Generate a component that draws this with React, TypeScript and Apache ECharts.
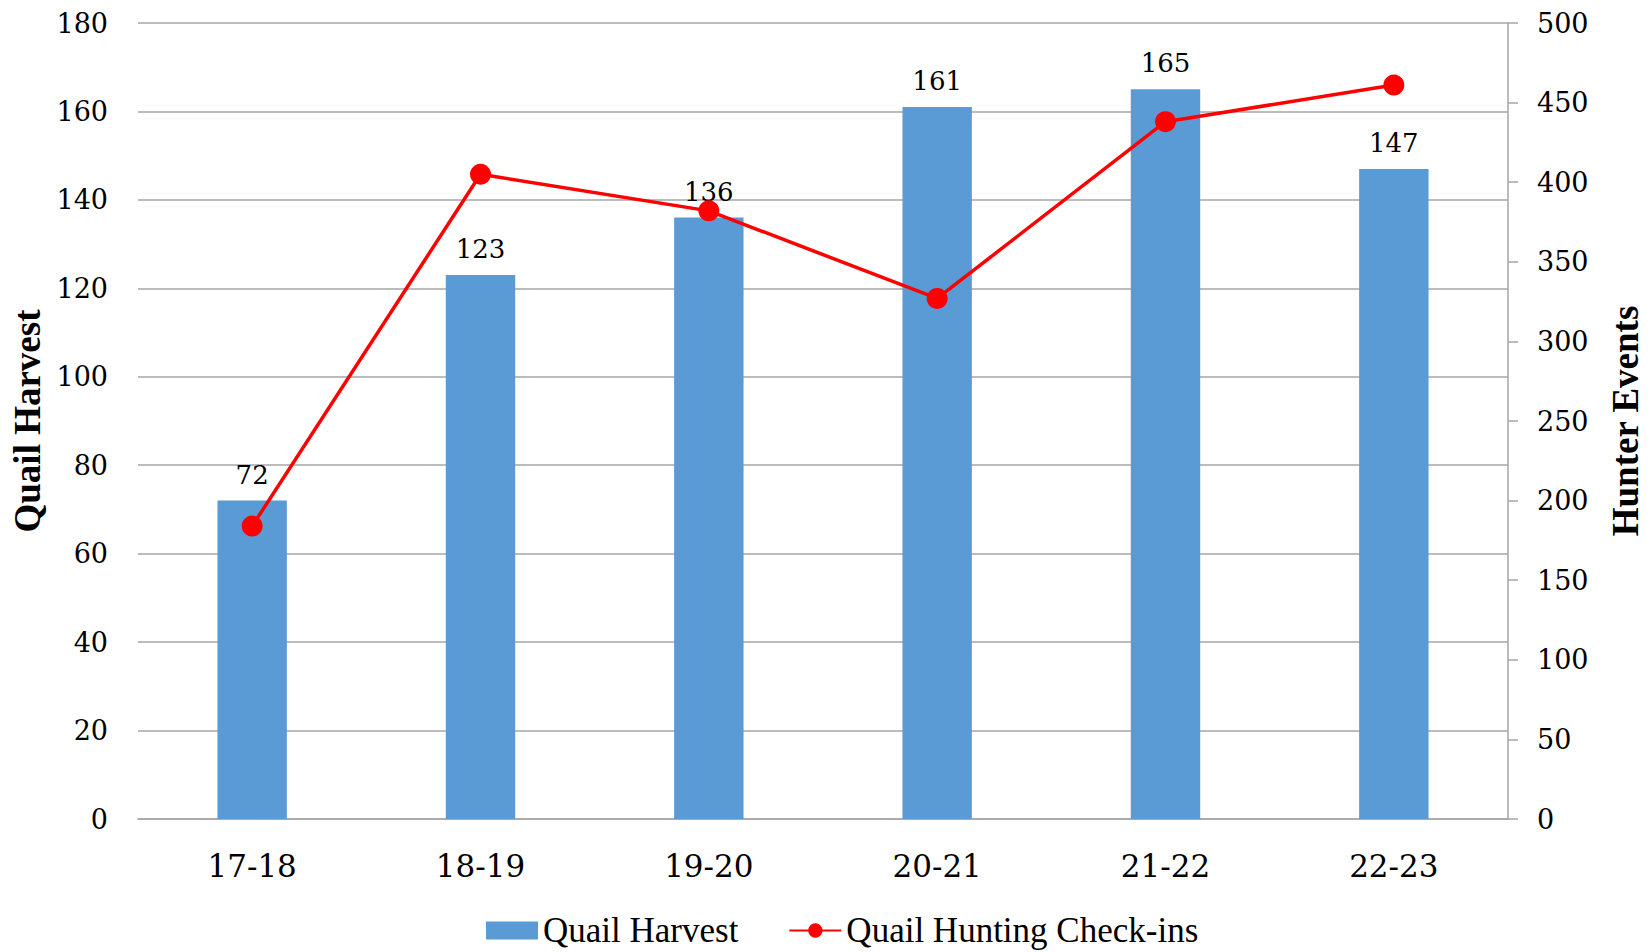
import React, { useEffect, useRef } from "react";
import * as echarts from "echarts";

const categories = ["17-18", "18-19", "19-20", "20-21", "21-22", "22-23"];
const harvest = [72, 123, 136, 161, 165, 147];
const checkins = [184, 405, 382, 327, 438, 461];
const leftTicks = { min: 0, max: 180, interval: 20 };
const rightTicks = { min: 0, max: 500, interval: 50 };

export default function App() {
  const ref = useRef<HTMLDivElement>(null);
  useEffect(() => {
    document.documentElement.style.overflow = "hidden";
    document.body.style.margin = "0";
    document.body.style.overflow = "hidden";
    if (!ref.current) return;
    const chart = echarts.init(ref.current, undefined, { renderer: "svg" });
    const grey = "#a6a6a6";
    chart.setOption({
      animation: false,
      backgroundColor: "#ffffff",
      grid: { left: 138, right: 130, top: 23, bottom: 133 },
      legend: {
        top: 908,
        left: 481,
        itemWidth: 52,
        itemHeight: 18,
        itemGap: 50,
        textStyle: { fontFamily: "Liberation Serif", fontSize: 35, color: "#000" },
        data: [
          { name: "Quail Harvest", icon: "rect" },
          { name: "Quail Hunting Check-ins" },
        ],
      },
      xAxis: {
        type: "category",
        data: categories,
        axisLine: { lineStyle: { color: grey, width: 1.5 } },
        axisTick: { show: false },
        axisLabel: {
          fontFamily: "DejaVu Serif",
          fontSize: 31,
          color: "#000",
          margin: 31,
        },
      },
      yAxis: [
        {
          type: "value",
          ...leftTicks,
          name: "Quail Harvest",
          nameLocation: "middle",
          nameRotate: 90,
          nameGap: 88,
          nameTextStyle: {
            fontFamily: "Liberation Serif",
            fontWeight: "bold",
            fontSize: 37,
            color: "#000",
          },
          axisLine: { show: false },
          axisTick: { show: false },
          axisLabel: { fontFamily: "DejaVu Serif", fontSize: 27, color: "#000", margin: 30 },
          splitLine: { lineStyle: { color: grey, width: 1.5 } },
        },
        {
          type: "value",
          ...rightTicks,
          name: "Hunter Events",
          nameLocation: "middle",
          nameRotate: 90,
          nameGap: 99,
          nameTextStyle: {
            fontFamily: "Liberation Serif",
            fontWeight: "bold",
            fontSize: 37,
            color: "#000",
          },
          axisLine: { show: true, lineStyle: { color: grey, width: 1.5 } },
          axisTick: { show: true, length: 10, lineStyle: { color: grey, width: 1.5 } },
          axisLabel: { fontFamily: "DejaVu Serif", fontSize: 27, color: "#000", margin: 29 },
          splitLine: { show: false },
        },
      ],
      series: [
        {
          name: "Quail Harvest",
          type: "bar",
          yAxisIndex: 0,
          data: harvest,
          barWidth: "30.4%",
          itemStyle: { color: "#5b9bd5" },
          label: {
            show: true,
            position: "top",
            distance: 13,
            fontFamily: "DejaVu Serif",
            fontSize: 26,
            color: "#000",
          },
        },
        {
          name: "Quail Hunting Check-ins",
          type: "line",
          yAxisIndex: 1,
          data: checkins,
          symbol: "circle",
          symbolSize: 21,
          lineStyle: { color: "#ff0000", width: 3.5 },
          itemStyle: { color: "#ff0000" },
        },
      ],
    });
    return () => chart.dispose();
  }, []);
  return (
    <div
      ref={ref}
      style={{ position: "fixed", left: 0, top: 0, width: 1652, height: 952 }}
    />
  );
}
